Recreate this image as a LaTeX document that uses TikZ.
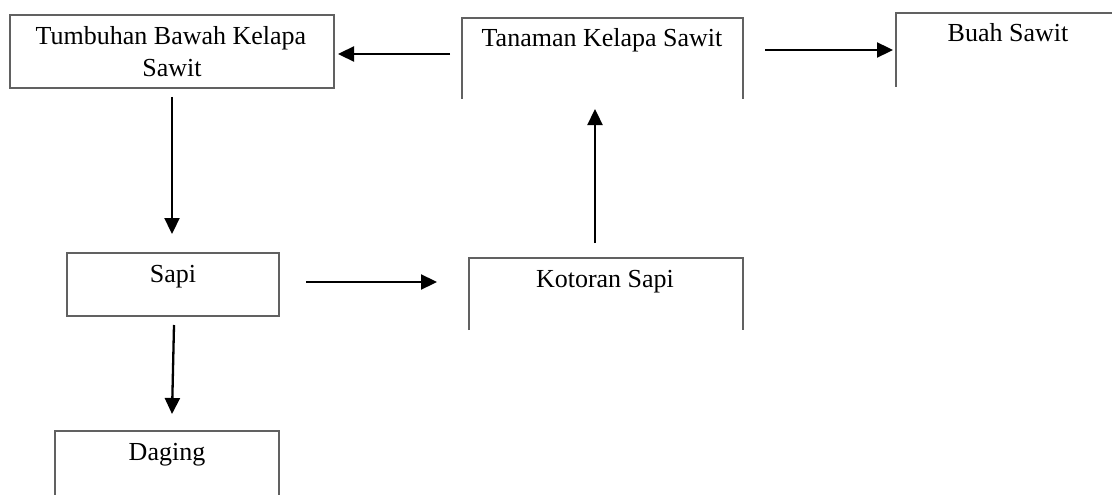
\documentclass[tikz,border=0pt]{standalone}
\usepackage{fontspec}
\setmainfont{Liberation Serif}
\usetikzlibrary{arrows.meta}
\begin{document}
\begin{tikzpicture}[x=1pt,y=-1pt,
  boxline/.style={draw=black!62, line width=1.1pt},
  hidden/.style={draw=none, inner sep=0pt, outer sep=0pt, anchor=north west},
  arr/.style={line width=2.3pt, -{Triangle[length=16pt,width=15pt]}},
  lbl/.style={anchor=base, inner sep=0pt, font=\fontsize{26}{32}\selectfont}]
\useasboundingbox (0,0) rectangle (1112,495);

% boxes (named rectangles)
\node[hidden, minimum width=324pt, minimum height=73pt] (tumbuhan) at (10,15) {};
\node[hidden, minimum width=281pt, minimum height=81pt] (tanaman) at (462,18) {};
\node[hidden, minimum width=216pt, minimum height=74pt] (buah) at (896,13) {};
\node[hidden, minimum width=212pt, minimum height=63pt] (sapi) at (67,253) {};
\node[hidden, minimum width=274pt, minimum height=72pt] (kotoran) at (469,258) {};
\node[hidden, minimum width=224pt, minimum height=64pt] (daging) at (55,431) {};

\draw[boxline] (tumbuhan.north west) rectangle (tumbuhan.south east);
\draw[boxline] (tanaman.south west) -- (tanaman.north west) -- (tanaman.north east) -- (tanaman.south east);
\draw[boxline] (buah.south west) -- (buah.north west) -- (buah.north east);
\draw[boxline] (sapi.north west) rectangle (sapi.south east);
\draw[boxline] (kotoran.south west) -- (kotoran.north west) -- (kotoran.north east) -- (kotoran.south east);
\draw[boxline] (daging.south west) -- (daging.north west) -- (daging.north east) -- (daging.south east);

% labels
\node[lbl] (ttumbuhan1) at (171,45) {Tumbuhan Bawah Kelapa};
\node[lbl] (ttumbuhan2) at (172,77) {Sawit};
\node[lbl] (ttanaman) at (602,47) {Tanaman Kelapa Sawit};
\node[lbl] (tbuah) at (1008,42) {Buah Sawit};
\node[lbl] (tsapi) at (173,282) {Sapi};
\node[lbl] (tkotoran) at (605,287) {Kotoran Sapi};
\node[lbl] (tdaging) at (167,460) {Daging};

% arrow end points
\coordinate (a1s) at (450,54);  \coordinate (a1e) at (338,54);
\coordinate (a2s) at (765,50);  \coordinate (a2e) at (893,50);
\coordinate (a3s) at (172,97);  \coordinate (a3e) at (172,234);
\coordinate (a4s) at (306,282); \coordinate (a4e) at (437,282);
\coordinate (a5s) at (595,243); \coordinate (a5e) at (595,109);
\coordinate (a6s) at (174,325); \coordinate (a6e) at (172,414);

\draw[arr] (a1s) -- (a1e);
\draw[arr] (a2s) -- (a2e);
\draw[arr] (a3s) -- (a3e);
\draw[arr] (a4s) -- (a4e);
\draw[arr] (a5s) -- (a5e);
\draw[arr] (a6s) -- (a6e);
\end{tikzpicture}
\end{document}
